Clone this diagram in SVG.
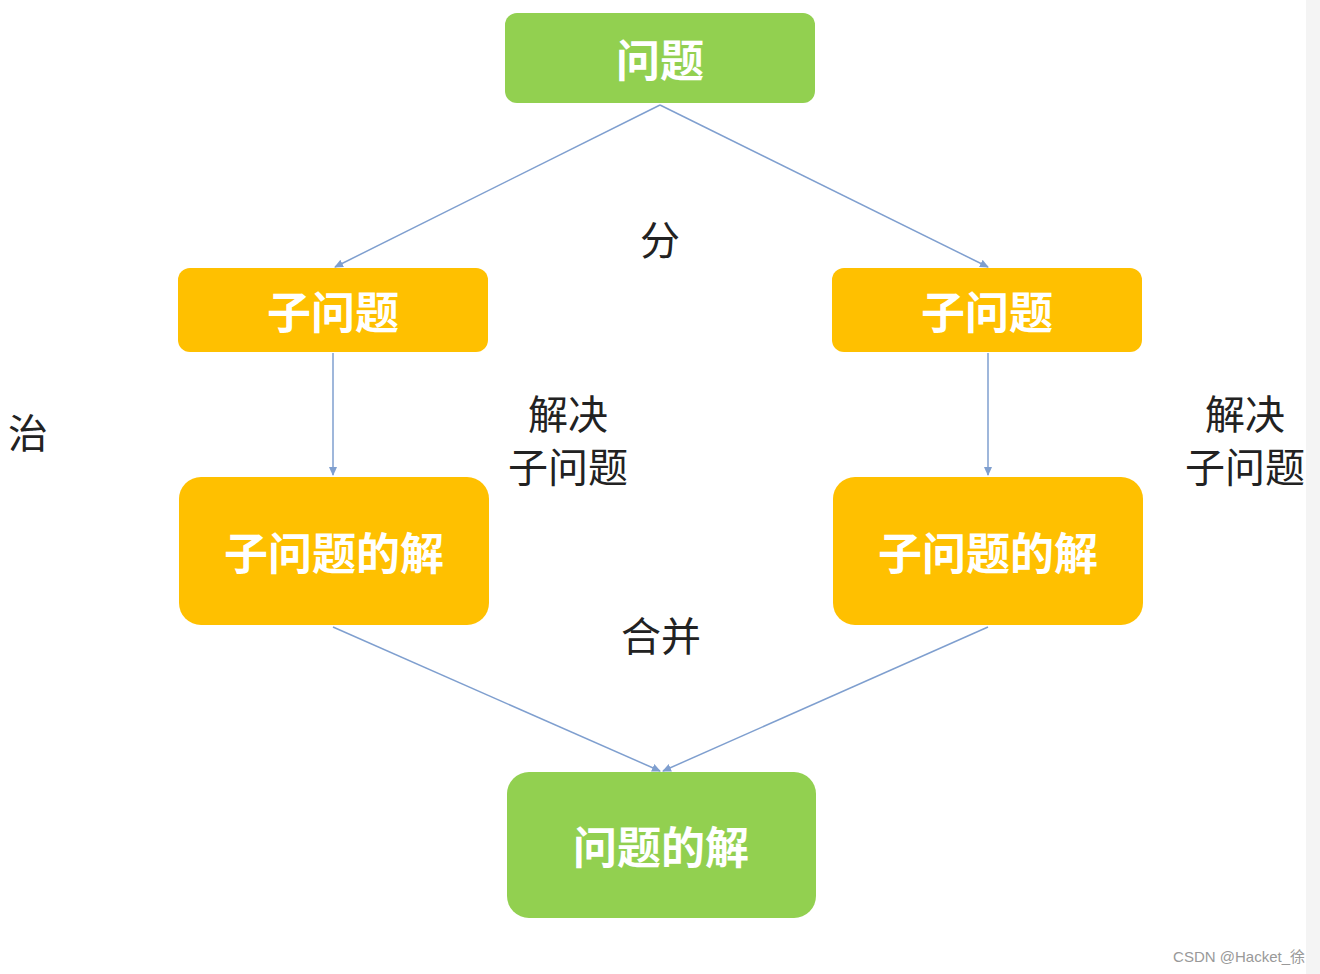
<svg xmlns="http://www.w3.org/2000/svg" width="1320" height="974" viewBox="0 0 1320 974">
<style>
.g{fill:#92D050}.o{fill:#FFC000}
.t{font-family:"Noto Sans CJK SC",sans-serif;font-weight:bold;fill:#fff;font-size:44px;text-anchor:middle;dominant-baseline:central}
.l{font-family:"Noto Sans CJK SC",sans-serif;fill:#222;font-size:40px;text-anchor:middle;dominant-baseline:central}
.c{stroke:#7F9FCF;stroke-width:1.5;fill:none;marker-end:url(#a)}
</style>
<defs><marker id="a" markerWidth="10" markerHeight="10" refX="8" refY="5" orient="auto" markerUnits="userSpaceOnUse"><path d="M0,1 L9,5 L0,9 Z" fill="#7F9FCF"/></marker></defs>
<rect width="1320" height="974" fill="#fff"/>
<rect x="1306" y="0" width="14" height="974" fill="#f4f4f4"/>
<g id="connectors">
<path class="c" d="M660,105 L335,267"/>
<path class="c" d="M660,105 L988,267"/>
<path class="c" d="M333,353 L333,475"/>
<path class="c" d="M988,353 L988,475"/>
<path class="c" d="M333,627 L660,771"/>
<path class="c" d="M988,627 L663,771"/>
</g>
<g id="n1"><rect class="g" x="505" y="13" width="310" height="90" rx="12"/><text class="t" x="660" y="58">问题</text></g>
<g id="n2"><rect class="o" x="178" y="268" width="310" height="84" rx="12"/><text class="t" x="333" y="310">子问题</text></g>
<g id="n3"><rect class="o" x="832" y="268" width="310" height="84" rx="12"/><text class="t" x="987" y="310">子问题</text></g>
<g id="n4"><rect class="o" x="179" y="477" width="310" height="148" rx="22"/><text class="t" x="334" y="551">子问题的解</text></g>
<g id="n5"><rect class="o" x="833" y="477" width="310" height="148" rx="22"/><text class="t" x="988" y="551">子问题的解</text></g>
<g id="n6"><rect class="g" x="507" y="772" width="309" height="146" rx="22"/><text class="t" x="661" y="845">问题的解</text></g>
<text class="l" x="660" y="238">分</text>
<text class="l" x="568" y="412">解决</text>
<text class="l" x="568" y="465">子问题</text>
<text class="l" x="1245" y="412">解决</text>
<text class="l" x="1245" y="465">子问题</text>
<text class="l" x="661" y="634">合并</text>
<text class="l" x="28" y="431">治</text>
<text x="1305" y="962" font-family="Liberation Sans,'Noto Sans CJK SC',sans-serif" font-size="15" fill="#999" text-anchor="end">CSDN @Hacket_徐</text>
</svg>
